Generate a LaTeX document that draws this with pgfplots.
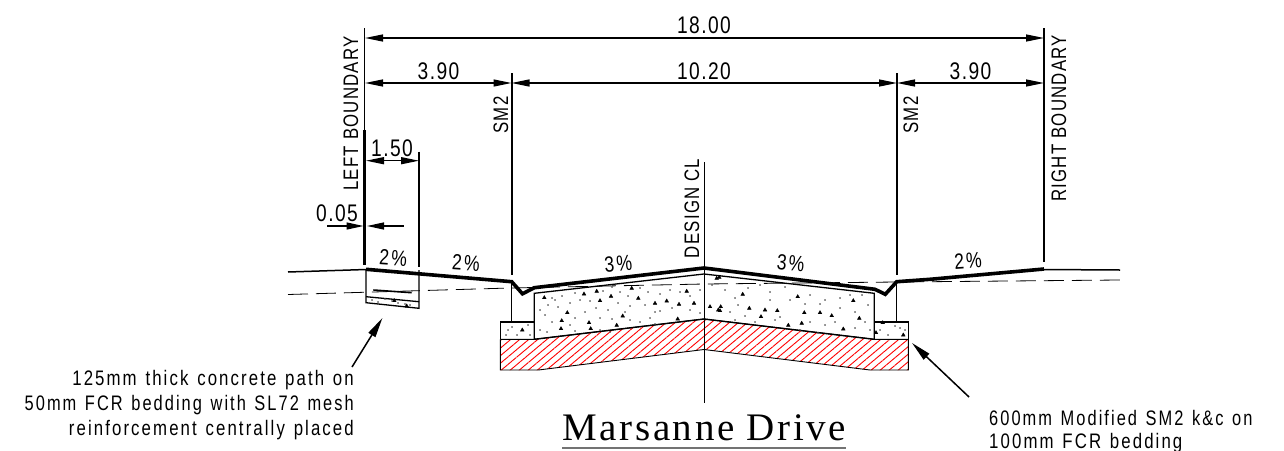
\documentclass[border=0pt]{standalone}
\usepackage{fontspec}
\usepackage{pgfplots}
\pgfplotsset{compat=1.18}
\usetikzlibrary{arrows.meta,patterns.meta}
\newfontfamily\cad[FakeStretch=0.8,LetterSpace=6]{Liberation Sans}
\newfontfamily\note[FakeStretch=0.8,LetterSpace=10,WordSpace=1.3]{Liberation Sans}
\newfontfamily\ttl[LetterSpace=6.7]{Liberation Serif}
\newcommand{\dimt}{\cad\fontsize{24}{24}\selectfont}
\newcommand{\labt}{\cad\fontsize{21}{25}\selectfont}
\newcommand{\nott}{\note\fontsize{21}{25}\selectfont}
\newcommand{\pct}{\note\fontsize{22}{25}\selectfont}
\tikzset{
  ln/.style={black,line width=1.3pt},
  thin ln/.style={black,line width=0.9pt},
  road/.style={black,line width=3.6pt,line join=miter},
  dimn/.style={black,line width=1.3pt,{Triangle[length=18pt,width=7pt]}-{Triangle[length=18pt,width=7pt]}},
  tip/.style={black,line width=1.5pt,-{Triangle[length=20pt,width=8pt]}},
  lbl/.style={inner sep=0pt,font=\labt},
  nt/.style={inner sep=0pt,font=\nott},
  pc/.style={inner sep=0pt,font=\pct},
}
\begin{document}
\begin{tikzpicture}
\begin{axis}[
    scale only axis,width=1284pt,height=450pt,
    xmin=0,xmax=1284,ymin=0,ymax=450,y dir=reverse,
    axis lines=none,
    axis background/.style={fill=white},
]
% red hatched base
\addplot[thin ln,pattern={Lines[angle=40,distance=5.8pt,line width=0.9pt]},pattern color=red] coordinates {
    (500.3,339.3) (534.3,339.3) (704,319) (874.3,339.3) (908.3,339.3)
    (908.3,370) (870,370) (704,349.5) (538.3,370) (500.3,370) (500.3,339.3)};
% slab and kerbs
\addplot[ln] coordinates {(534.3,339.3) (534.3,293.3) (704,274) (874.3,293.3) (874.3,339.3)};
\addplot[ln] coordinates {(500.3,339.3) (500.3,322) (534.3,322)};
\addplot[ln] coordinates {(874.3,322) (908.3,322) (908.3,339.3)};
\addplot[line width=1.4pt,black] coordinates {(534.3,339.3) (704,319) (874.3,339.3)};
% existing surface
\addplot[black,line width=0.8pt,dash pattern=on 20pt off 8pt] coordinates {(288,294.5) (510,288) (704,284) (897,282) (1120,280)};
\addplot[black,line width=1.5pt] coordinates {(288,272) (366,269.5)};
\addplot[black,line width=1.5pt] coordinates {(1044,269.5) (1120,270)};
% finished surface
\addplot[road] coordinates {(366,269.3) (511.7,281.7) (522.5,293.8) (534.3,287.7) (704,268) (875,289.3) (885.3,294.3) (896.7,281.7) (930,279.3) (1044,269)};
% path
\addplot[ln] coordinates {(366,269.5) (366,302.7) (419,308.3) (419,270)};
\addplot[ln] coordinates {(366,296.7) (419,301.7)};
\addplot[black,line width=1.6pt] coordinates {(373.3,290) (411.7,292.7)};
% boundaries and setouts
\addplot[black,line width=1.8pt] coordinates {(364.5,28) (364.5,130)};
\addplot[black,line width=2.2pt] coordinates {(364.5,130) (364.5,227)};
\addplot[black,line width=3.3pt] coordinates {(364.5,227) (364.5,265)};
\addplot[black,line width=1.8pt] coordinates {(1044.3,28) (1044.3,262)};
\addplot[black,line width=1.6pt] coordinates {(419,151.7) (419,267)};
\addplot[black,line width=1.6pt] coordinates {(511.7,73) (511.7,275)};
\addplot[thin ln] coordinates {(511.7,281) (511.7,322)};
\addplot[black,line width=1.6pt] coordinates {(896.8,73) (896.8,275)};
\addplot[thin ln] coordinates {(896.8,282) (896.8,322)};
\addplot[ln] coordinates {(704.5,162) (704.5,268)};
\addplot[thin ln] coordinates {(704.5,268) (704.5,403)};
% dimensions
\addplot[dimn] coordinates {(365,38) (1044,38)};
\addplot[dimn] coordinates {(365,83) (511.5,83)};
\addplot[dimn] coordinates {(511.5,83) (897,83)};
\addplot[dimn] coordinates {(897,83) (1044,83)};
\addplot[dimn] coordinates {(366,160.7) (419,160.7)};
\addplot[black,line width=1.3pt,-{Triangle[length=17pt,width=7pt]}] coordinates {(327,226) (363.5,226)};
\addplot[black,line width=1.3pt,-{Triangle[length=17pt,width=7pt]}] coordinates {(403.5,226) (367,226)};
% leaders
\addplot[tip] coordinates {(352,367) (382.4,318)};
\addplot[tip] coordinates {(969,397) (912,343)};
% title underline
\addplot[black!55,line width=1.6pt] coordinates {(562,447.7) (846,447.7)};
% aggregate
\addplot[only marks,mark=triangle*,mark size=2.1pt,black] coordinates {
    (544.3,297.7) (584,294) (596.7,291.3) (611,296.3) (600,300.7) (631.7,288.3) (638.3,298.3)
    (655,303.3) (666.7,301) (679,304.3) (694,303.3) (686.7,291.3) (567.3,312.7) (561.7,320.7)
    (561,328.7) (589,322.7) (590.7,328.7) (616.7,325.3) (622.7,316) (677.7,319) (522.3,330)
    (710,306.7) (718.3,310) (716.7,278.3) (719.3,277.3) (742.7,294.3) (797.7,296.7) (853.3,300.7)
    (720.7,306.7) (720,310.7) (749.3,308.3) (765,310) (777.3,310.7) (761,316.7) (804.3,312.7)
    (820,312.7) (831.7,315.7) (859.3,318.3) (801.7,323.3) (788.3,325.3) (843.3,329) (903.3,335)
    (882.7,322.7) (876,332.7) (394.3,300.7) (406.7,306)};
\addplot[only marks,mark=*,mark size=0.5pt,black!70] coordinates {
    (552,298) (548,305) (555,300) (562,296) (575,293) (558,307) (570,303) (580,300) (590,301)
    (603,291) (612,287) (620,292) (628,296) (618,303) (630,306) (640,288) (648,292) (660,294)
    (670,290) (680,292) (690,296) (700,290) (655,312) (650,318) (660,311) (672,308) (690,310)
    (700,313) (645,305) (625,312) (608,310) (596,308) (585,312) (575,318) (570,325) (552,322)
    (545,315) (540,310) (540,330) (547,332) (600,318) (612,319) (630,320) (640,322) (655,324)
    (600,330) (575,331) (610,332) (512,327) (508,330) (528,325) (517,335) (530,335) (506,335)
    (712,285) (725,290) (735,298) (748,288) (760,285) (770,292) (785,287) (790,300) (810,295)
    (825,300) (840,298) (850,295) (862,295) (868,305) (855,312) (840,308) (820,304) (805,304)
    (730,312) (738,305) (745,316) (770,300) (775,320) (755,322) (735,320) (780,317) (810,322)
    (825,325) (835,322) (855,328) (865,322) (870,330) (818,333) (800,330) (880,330) (888,335)
    (895,326) (900,328) (905,330) (372,300) (378,302) (385,299) (392,301) (398,303) (405,304) (410,305)};
% text
\node[font=\dimt,inner sep=0pt] at (axis cs:704,25.5) {18.00};
\node[font=\dimt,inner sep=0pt] at (axis cs:438.5,71) {3.90};
\node[font=\dimt,inner sep=0pt] at (axis cs:704,71) {10.20};
\node[font=\dimt,inner sep=0pt] at (axis cs:970.5,71) {3.90};
\node[font=\dimt,inner sep=0pt] at (axis cs:392,148) {1.50};
\node[font=\dimt,inner sep=0pt] at (axis cs:337,213) {0.05};
\node[lbl,rotate=90] at (axis cs:351,113.5) {LEFT BOUNDARY};
\node[lbl,rotate=90] at (axis cs:1059,118.5) {RIGHT BOUNDARY};
\node[lbl,rotate=90] at (axis cs:501,115) {SM2};
\node[lbl,rotate=90] at (axis cs:911,115) {SM2};
\node[lbl,rotate=90] at (axis cs:692,208.5) {DESIGN CL};
\node[pc,rotate=-4] at (axis cs:393.3,257.7) {2\%};
\node[pc,rotate=-4] at (axis cs:466,263.3) {2\%};
\node[pc,rotate=5] at (axis cs:618.3,264) {3\%};
\node[pc,rotate=-5] at (axis cs:790.7,263.3) {3\%};
\node[pc,rotate=4] at (axis cs:968,261) {2\%};
\node[nt,anchor=east] at (axis cs:354,380) {125mm thick concrete path on};
\node[nt,anchor=east,xscale=0.976] at (axis cs:354,405) {50mm FCR bedding with SL72 mesh};
\node[nt,anchor=east] at (axis cs:354,430) {reinforcement centrally placed};
\node[nt,anchor=west,xscale=0.977] at (axis cs:989,418) {600mm Modified SM2 k\&c on};
\node[nt,anchor=west] at (axis cs:989,443) {100mm FCR bedding};
\node[font=\ttl\fontsize{39}{39}\selectfont,inner sep=0pt,anchor=base] at (axis cs:704.3,440.7) {Marsanne Drive};
\end{axis}
\end{tikzpicture}
\end{document}
